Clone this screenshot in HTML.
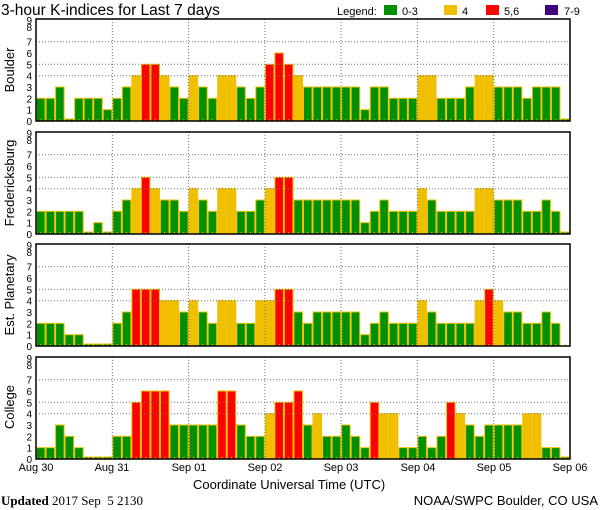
<!DOCTYPE html>
<html><head><meta charset="utf-8"><style>
html,body{margin:0;padding:0;background:#fff;}
svg{display:block;font-family:"Liberation Sans",sans-serif;}
</style></head><body>
<svg id="s" width="600" height="510" viewBox="0 0 600 510" xmlns="http://www.w3.org/2000/svg">
<rect width="600" height="510" fill="#fff"/>
<text x="1" y="15" font-size="15.5" fill="#000">3-hour K-indices for Last 7 days</text>
<text x="337" y="15" font-size="11" fill="#000">Legend:</text>
<rect x="384" y="5" width="13" height="10" fill="#009000"/>
<text x="402" y="15" font-size="11">0-3</text>
<rect x="444" y="5" width="13" height="10" fill="#f0c000"/>
<text x="462" y="15" font-size="11">4</text>
<rect x="486" y="5" width="13" height="10" fill="#ff0000"/>
<text x="504" y="15" font-size="11">5,6</text>
<rect x="545" y="5" width="13" height="10" fill="#400080"/>
<text x="564" y="15" font-size="11">7-9</text>
<g id="g"></g>
<text transform="translate(14,70) rotate(-90)" text-anchor="middle" font-size="13">Boulder</text>
<text transform="translate(14,183) rotate(-90)" text-anchor="middle" font-size="13">Fredericksburg</text>
<text transform="translate(14,295) rotate(-90)" text-anchor="middle" font-size="13">Est. Planetary</text>
<text transform="translate(14,407) rotate(-90)" text-anchor="middle" font-size="13">College</text>
<g font-size="11" text-anchor="middle">
<text x="36" y="471">Aug 30</text>
<text x="112" y="471">Aug 31</text>
<text x="189" y="471">Sep 01</text>
<text x="265" y="471">Sep 02</text>
<text x="341" y="471">Sep 03</text>
<text x="418" y="471">Sep 04</text>
<text x="494" y="471">Sep 05</text>
<text x="570" y="471">Sep 06</text>
</g>
<text x="193" y="489" font-size="13">Coordinate Universal Time (UTC)</text>
<text x="1" y="505" font-size="13" font-family="Liberation Serif,serif" style="white-space:pre"><tspan font-weight="bold">Updated</tspan> 2017 Sep  5 2130</text>
<text x="598" y="505" font-size="13" text-anchor="end">NOAA/SWPC Boulder, CO USA</text>
</svg>
<script>
var D=[
[2,2,3,0,2,2,2,1, 2,3,4,5,5,4,3,2, 4,3,2,4,4,3,2,3, 5,6,5,4,3,3,3,3, 3,3,1,3,3,2,2,2, 4,4,2,2,2,3,4,4, 3,3,3,2,3,3,3,0],
[2,2,2,2,2,0,1,0, 2,3,4,5,4,3,3,2, 4,3,2,4,4,2,2,3, 4,5,5,3,3,3,3,3, 3,3,1,2,3,2,2,2, 4,3,2,2,2,2,4,4, 3,3,3,2,2,3,2,0],
[2,2,2,1,1,0,0,0, 2,3,5,5,5,4,4,3, 4,3,2,4,4,2,2,4, 4,5,5,3,2,3,3,3, 3,3,1,2,3,2,2,2, 4,3,2,2,2,2,4,5, 4,3,3,2,2,3,2,-1],
[1,1,3,2,1,0,0,0, 2,2,5,6,6,6,3,3, 3,3,3,6,6,3,2,2, 4,5,5,6,3,4,2,2, 3,2,1,5,4,4,1,1, 2,1,2,5,4,3,2,3, 3,3,3,4,4,1,1,0]];
var T=[19,132,244,357],H=102,U=H/9,X0=36,X1=570,W=(X1-X0)/56;
var h='';
function c(v){return v<=3?'#009000':v==4?'#f0c000':v<=6?'#ff0000':'#400080';}
for(var p=0;p<4;p++){var t=T[p],b=t+H;
 for(var i=0;i<56;i++){var v=D[p][i],x=X0+i*W;
  if(v>=0){var hh=v==0?2:v*U;h+='<rect x="'+(x+0.5).toFixed(2)+'" y="'+(b-hh).toFixed(2)+'" width="'+(W-1).toFixed(2)+'" height="'+hh.toFixed(2)+'" fill="'+c(v)+'" stroke="#f0c000" stroke-width="1"/>';}
  h+='<line x1="'+(x+W/2).toFixed(1)+'" x2="'+(x+W/2).toFixed(1)+'" y1="'+(b-2)+'" y2="'+b+'" stroke="#f0c000" stroke-width="1"/>';
 }
 [4,5,7].forEach(function(k){var y=(b-k*U).toFixed(1);h+='<line x1="'+X0+'" x2="'+X1+'" y1="'+y+'" y2="'+y+'" stroke="#707070" stroke-dasharray="1,2"/>';});
 for(var d=1;d<7;d++){var x=(X0+d*8*W).toFixed(1);h+='<line x1="'+x+'" x2="'+x+'" y1="'+t+'" y2="'+b+'" stroke="#707070" stroke-dasharray="1,2"/>';}
 h+='<rect x="'+X0+'" y="'+t+'" width="'+(X1-X0)+'" height="'+H+'" fill="none" stroke="#000" stroke-width="1.5"/>';
 for(var k=0;k<=9;k++){var y=b-k*U+4;if(k==9)y=t+5;if(k==8)y=t+12;h+='<text x="32" y="'+y.toFixed(1)+'" font-size="10" text-anchor="end">'+k+'</text>';}
}
document.getElementById('g').innerHTML=h;
</script>
</body></html>
